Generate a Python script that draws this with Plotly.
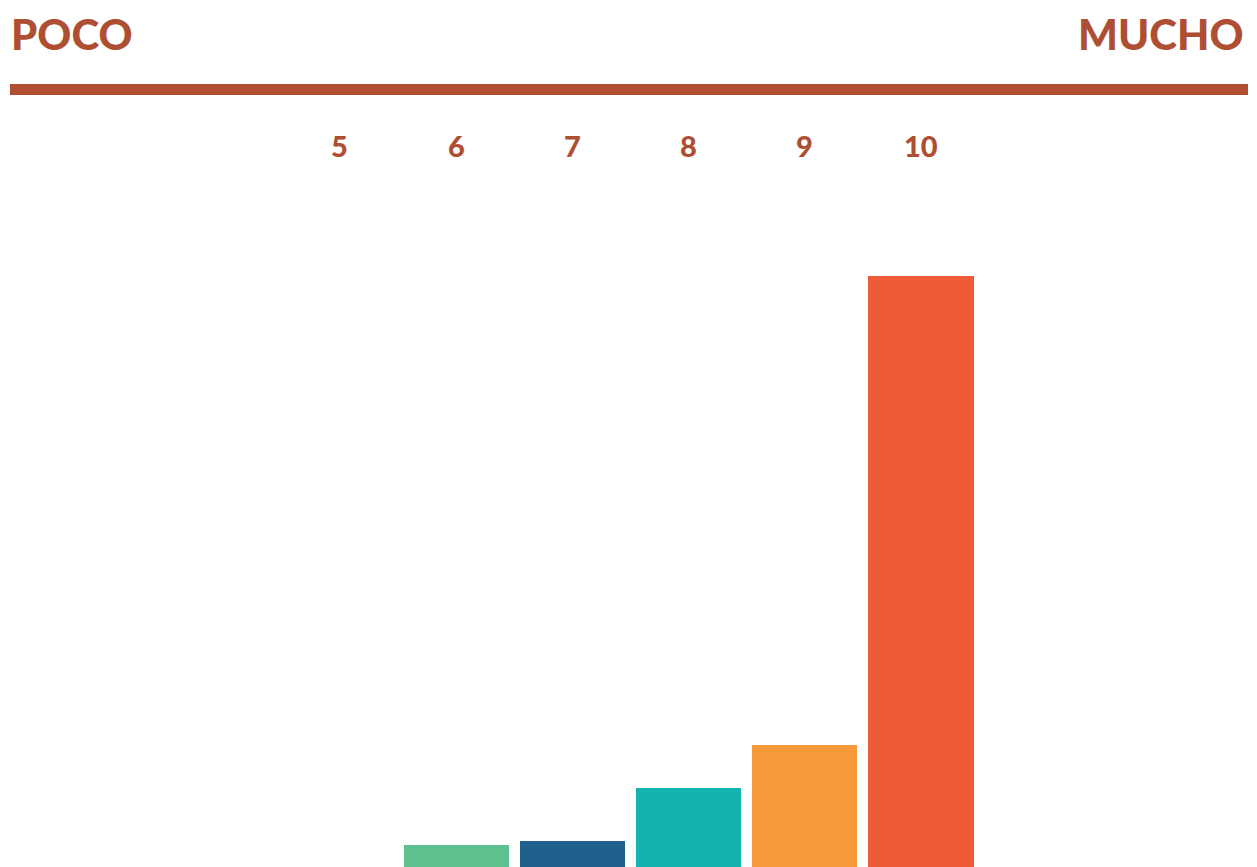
import plotly.graph_objects as go

categories = [5, 6, 7, 8, 9, 10]
tick_labels = ["5", "6", "7", "8", "9", "10"]
values = [0.0, 2.6, 3.1, 9.4, 14.5, 70.4]
colors = ["#5DC08E", "#5DC08E", "#215F8C", "#15B3AD", "#F89A3C", "#ED5B37"]

TXT = "#AE4E32"
FONT = "Lato"

fig = go.Figure()
fig.add_trace(go.Bar(
    x=categories, y=values, width=0.905,
    marker=dict(color=colors, line=dict(width=0)),
    hoverinfo="x+y", showlegend=False,
))

for c, t in zip(categories, tick_labels):
    fig.add_annotation(x=c, y=0.8405, xref="x", yref="paper", text=t,
                       showarrow=False, xanchor="center", yanchor="middle",
                       font=dict(family=FONT, size=29, color=TXT, weight=900))

fig.add_annotation(x=0.0016, y=1.0, xref="paper", yref="paper", text="POCO",
                   showarrow=False, xanchor="left", yanchor="top", borderpad=0,
                   font=dict(family=FONT, size=42, color=TXT, weight=900))
fig.add_annotation(x=0.9904, y=1.0, xref="paper", yref="paper", text="MUCHO",
                   showarrow=False, xanchor="right", yanchor="top", borderpad=0,
                   font=dict(family=FONT, size=42, color=TXT, weight=900))

fig.add_shape(type="line", xref="paper", yref="paper",
              x0=0.0016, x1=0.9928, y0=0.9051, y1=0.9051,
              line=dict(color="#B04F33", width=11))

fig.update_layout(
    width=1249, height=859,
    margin=dict(l=0, r=0, t=0, b=0),
    paper_bgcolor="white", plot_bgcolor="white",
    xaxis=dict(range=[2.143, 12.892], visible=False, fixedrange=True),
    yaxis=dict(range=[0, 102.32], visible=False, fixedrange=True),
    bargap=0,
)

fig.write_html("out.html")
